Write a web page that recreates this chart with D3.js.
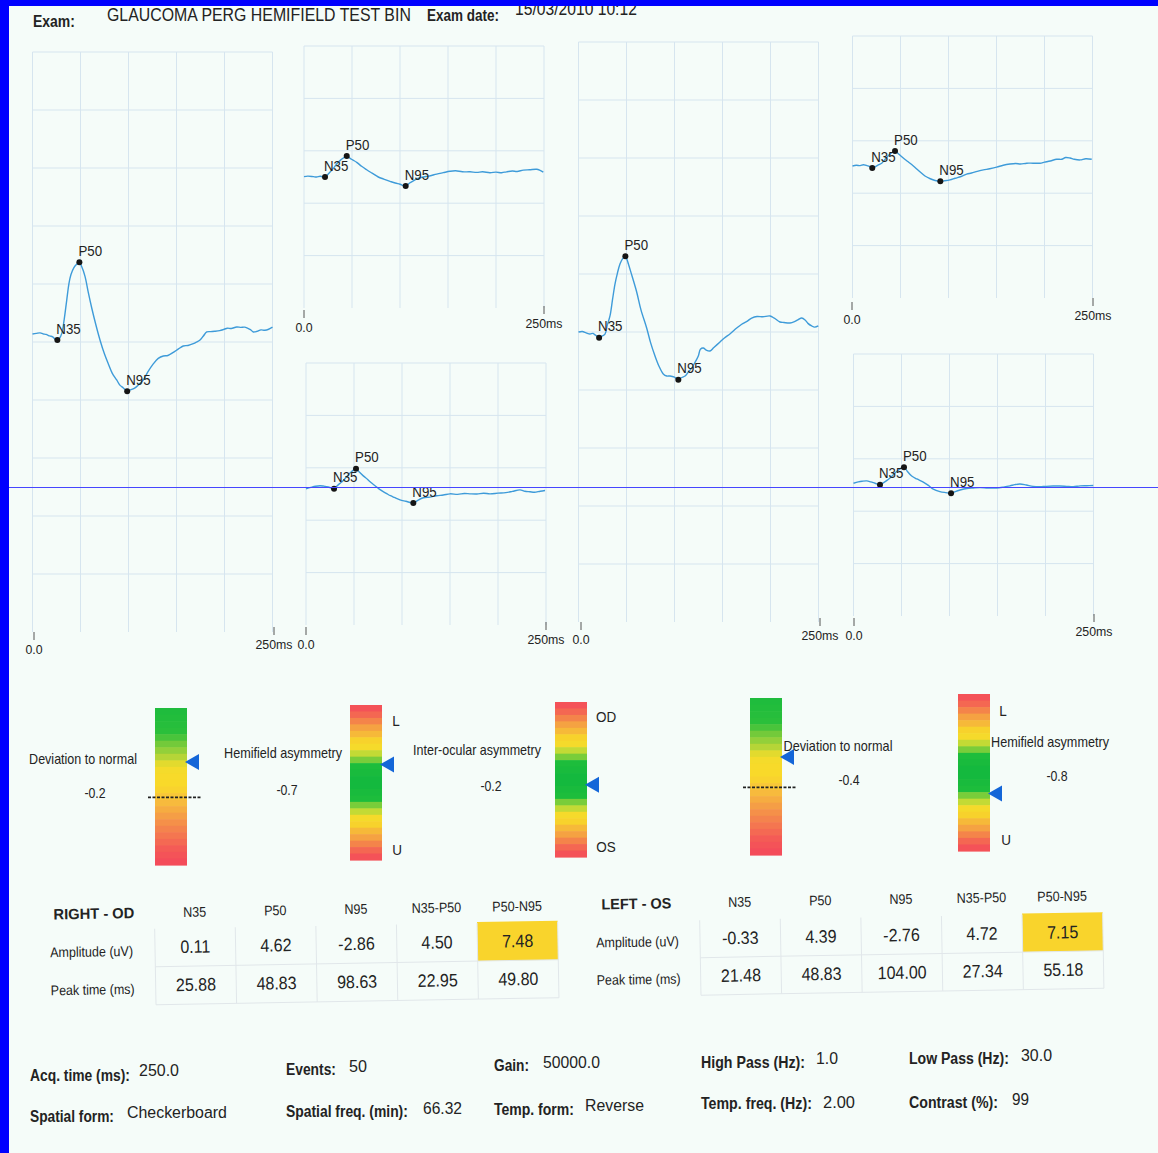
<!DOCTYPE html>
<html>
<head>
<meta charset="utf-8">
<script src="https://cdn.jsdelivr.net/npm/d3@7"></script>
<style>
  html, body { margin: 0; padding: 0; background: #f5fcf9; }
  svg { display: block; }
  text { font-family: "Liberation Sans", Arimo, Arial, sans-serif; fill: #232323; }
</style>
</head>
<body>
<svg id="chart" width="1158" height="1153"></svg>
<script>
// ---------------- data ----------------
const examName = "GLAUCOMA PERG HEMIFIELD TEST BIN";
const examDate = "15/03/2010 10:12";
const timeTickLabels = ["0.0", "250ms"];
const peakNames = ["N35", "P50", "N95"];

const tableColumns = ["N35", "P50", "N95", "N35-P50", "P50-N95"];
const tableRows = ["Amplitude (uV)", "Peak time (ms)"];
const highlightColumn = "P50-N95";
const odAmplitude = [0.11, 4.62, -2.86, 4.50, 7.48];
const odPeakTime  = [25.88, 48.83, 98.63, 22.95, 49.80];
const osAmplitude = [-0.33, 4.39, -2.76, 4.72, 7.15];
const osPeakTime  = [21.48, 48.83, 104.00, 27.34, 55.18];

// averaged responses: [time (ms), amplitude (uV)]
const odFullTrace = [[0,0.46],[4,0.50],[8,0.53],[11,0.47],[14,0.44],[18,0.35],[21,0.30],[24,0.14],[25.88,0.11],[28,0.2],[30.5,0.5],[33,1.3],[35.6,2.4],[38,3.4],[40,3.9],[43,4.3],[46,4.5],[48.83,4.62],[51,4.4],[54.7,3.8],[58,2.9],[61.7,1.97],[66,1.0],[70.3,0.12],[75,-0.7],[79,-1.27],[83,-1.8],[87.7,-2.2],[91,-2.5],[94.6,-2.66],[98.63,-2.86],[102,-2.78],[106.8,-2.66],[111,-2.45],[115.4,-2.2],[120,-1.75],[125.8,-1.27],[131,-0.95],[136.3,-0.81],[141,-0.78],[146.7,-0.6],[152,-0.4],[157,-0.23],[162,-0.2],[167.5,-0.1],[171,0.0],[174.5,0.12],[178,0.35],[181.5,0.58],[186,0.6],[190,0.62],[195,0.66],[198.8,0.72],[203,0.8],[207,0.78],[212.7,0.87],[217,0.85],[221,0.86],[224,0.8],[227,0.72],[230,0.58],[234,0.62],[238,0.7],[242,0.68],[246,0.74],[250,0.86]];
const odUpperTrace = [[0,0.02],[4,0.05],[9.7,0.02],[13,0.0],[17,0.04],[21.9,0.0],[26,0.22],[30.5,0.5],[34,0.75],[37.5,0.95],[41,1.1],[44.5,1.22],[48,1.08],[51,0.98],[54.9,0.85],[60,0.62],[65.3,0.42],[71,0.22],[77.4,0.0],[83,-0.12],[89.6,-0.25],[95,-0.35],[100,-0.42],[105.9,-0.52],[110,-0.35],[113.9,-0.22],[118,-0.1],[124.3,0.0],[130,0.05],[138.2,0.17],[145,0.25],[152,0.33],[158,0.36],[165,0.3],[172.9,0.3],[180,0.27],[186,0.3],[193.7,0.25],[200,0.28],[206,0.25],[211,0.3],[217,0.35],[222,0.32],[228.4,0.4],[235,0.42],[242.4,0.45],[246,0.38],[249.3,0.28]];
const odLowerTrace = [[0,0.3],[5,0.38],[10,0.45],[14.6,0.48],[18,0.46],[23.2,0.41],[26,0.35],[29.2,0.3],[32,0.45],[35,0.6],[38.9,0.78],[43,1.05],[47.6,1.3],[52.1,1.47],[55,1.3],[59.7,1.05],[64,0.85],[68,0.65],[71.9,0.48],[76,0.3],[80,0.15],[84.1,0.02],[88,-0.1],[92,-0.2],[97.9,-0.34],[104,-0.42],[111.8,-0.52],[116,-0.38],[122.2,-0.22],[129,-0.18],[136.1,-0.1],[143,-0.06],[150,0.01],[158,-0.02],[165,0.03],[170.8,0.01],[178,0.0],[185,0.04],[191.7,0.01],[200,0.05],[208,0.08],[215,0.15],[222.9,0.24],[228,0.16],[233.3,0.13],[238,0.1],[244,0.16],[249,0.2]];
const osFullTrace = [[0,0.0],[4,0.03],[8,-0.05],[12,-0.12],[15,-0.08],[17.2,-0.17],[19.5,-0.25],[21.48,-0.33],[24,-0.25],[27.6,-0.12],[30,0.4],[32.8,0.93],[35.5,1.9],[38,2.78],[40.5,3.4],[43.2,3.94],[46,4.25],[48.83,4.39],[50.5,4.2],[52,3.94],[56,3.2],[60.6,2.32],[65,1.3],[71,0.23],[75,-0.6],[79.7,-1.39],[84,-2.0],[88.3,-2.43],[92,-2.55],[95.3,-2.55],[100,-2.62],[104.0,-2.76],[107,-2.65],[111,-2.55],[114,-2.35],[117.9,-2.09],[121,-1.8],[124.8,-1.39],[127,-1.0],[130,-0.93],[133,-1.05],[137,-1.1],[141,-0.9],[147.4,-0.58],[152,-0.35],[158,-0.1],[164.8,0.23],[170,0.45],[175,0.6],[180.4,0.81],[186,0.9],[192,0.88],[199.5,0.93],[204,0.8],[209.9,0.58],[214,0.55],[220.3,0.52],[225,0.6],[229,0.72],[232.5,0.81],[236,0.7],[239,0.5],[242.9,0.35],[246,0.28],[249.8,0.35]];
const osUpperTrace = [[0,0.06],[4,0.1],[8,0.08],[11.3,0.13],[14,0.1],[17,0.05],[20.6,-0.06],[24,0.02],[27,0.12],[30.4,0.22],[34,0.45],[39,0.75],[44.3,0.92],[48,0.75],[52.9,0.52],[58,0.3],[63.4,0.06],[69,-0.22],[75.5,-0.52],[81,-0.68],[86,-0.78],[91.5,-0.82],[96,-0.8],[101.6,-0.75],[107,-0.65],[113,-0.55],[118.9,-0.41],[124,-0.35],[130,-0.25],[136.3,-0.17],[143,-0.1],[150.2,-0.01],[157,0.1],[164,0.17],[170,0.2],[175,0.17],[181.5,0.22],[188,0.22],[195.3,0.22],[200,0.28],[206,0.35],[212.7,0.45],[218,0.45],[222,0.55],[226.6,0.52],[231,0.45],[237,0.41],[243,0.48],[249.2,0.45]];
const osLowerTrace = [[0,0.1],[5,0.18],[9,0.22],[13.9,0.24],[18,0.18],[22.4,0.1],[27.6,0.01],[31,0.12],[34.5,0.25],[38,0.41],[42,0.62],[46.7,0.87],[52.6,1.03],[56,0.8],[60.6,0.52],[66,0.35],[72.7,0.17],[78,-0.02],[83.1,-0.24],[90,-0.38],[96,-0.44],[101.6,-0.48],[106,-0.38],[111,-0.29],[118,-0.2],[124.8,-0.17],[132,-0.15],[140,-0.18],[149.2,-0.17],[156,-0.12],[163,-0.05],[168,0.02],[173.4,0.06],[180,0.0],[187,-0.08],[194.3,-0.1],[200,-0.08],[208,-0.06],[215.1,-0.06],[222,-0.08],[229,-0.1],[236,-0.05],[243,-0.04],[249.8,-0.03]];

// half-field peak markers: [time (ms), amplitude (uV)] for N35, P50, N95
const odUpperPeaks = [[21.9, 0.0], [44.5, 1.22], [105.9, -0.52]];
const odLowerPeaks = [[29.2, 0.3], [52.1, 1.47], [111.8, -0.52]];
const osUpperPeaks = [[20.6, -0.06], [44.3, 0.92], [91.5, -0.82]];
const osLowerPeaks = [[27.6, 0.01], [52.6, 1.03], [101.6, -0.48]];

// summary gauges
const gaugeTitles = ["Deviation to normal", "Hemifield asymmetry", "Inter-ocular asymmetry", "Deviation to normal", "Hemifield asymmetry"];
const gaugeValues = [-0.2, -0.7, -0.2, -0.4, -0.8];
const gaugeKinds  = ["deviation", "asymmetry", "asymmetry", "deviation", "asymmetry"];
const gaugeEnds   = [null, ["L", "U"], ["OD", "OS"], null, ["L", "U"]];
const normalLimit = -1.645;

// stimulation / acquisition settings
const settingLabels = ["Acq. time (ms):", "Events:", "Gain:", "High Pass (Hz):", "Low Pass (Hz):",
                       "Spatial form:", "Spatial freq. (min):", "Temp. form:", "Temp. freq. (Hz):", "Contrast (%):"];
const settingValues = ["250.0", "50", "50000.0", "1.0", "30.0",
                       "Checkerboard", "66.32", "Reverse", "2.00", "99"];

// ---------------- drawing ----------------
const svg = d3.select("#chart");
const W = 1158, H = 1153;
svg.append("rect").attr("width", W).attr("height", H).attr("fill", "#f5fcf9");

// numbers printed with a plain hyphen for the sign
const fmt = spec => { const f = d3.format(spec); return v => f(v).replace("\u2212", "-"); };
const fmt1 = fmt(".1f"), fmt2 = fmt(".2f");

// condensed text: drawn at natural size, then narrowed horizontally
function txt(g, str, x, y, o = {}) {
  const holder = g.append("g");
  const t = holder.append("text")
    .attr("x", 0).attr("y", 0)
    .attr("font-size", o.size || 14)
    .attr("font-weight", o.bold ? "bold" : null)
    .attr("text-anchor", o.anchor || "start")
    .attr("dominant-baseline", "central")
    .text(str);
  const natural = t.node().getComputedTextLength();
  let s = 1;
  if (o.width) s = o.width / natural;
  else if (o.squeeze) s = o.squeeze;
  holder.attr("transform", `translate(${x},${y}) scale(${s},1)`);
  return t;
}

// header
const head = svg.append("g");
txt(head, "Exam:", 33, 21, { size: 16, bold: true, width: 42 });
txt(head, examName, 107, 15, { size: 18, width: 304 });
txt(head, "Exam date:", 427, 16, { size: 16, bold: true, width: 72 });
txt(head, examDate, 515, 9, { size: 18, width: 122 });

// waveform panels
const PX_PER_UV = 17.26;
const panels = [
  { trace: odFullTrace, peaks: peakNames.map((n, i) => [odPeakTime[i], odAmplitude[i]]),
    x0: 32.5, top: 52, bottom: 632, rows: 10, labels: [[34, 650], [274, 645]] },
  { trace: odUpperTrace, peaks: odUpperPeaks, x0: 304, top: 46, bottom: 308, rows: 5, labels: [[304, 328], [544, 324]] },
  { trace: odLowerTrace, peaks: odLowerPeaks, x0: 306, top: 363, bottom: 625, rows: 5, labels: [[306, 645], [546, 640]] },
  { trace: osFullTrace, peaks: peakNames.map((n, i) => [osPeakTime[i], osAmplitude[i]]),
    x0: 578.5, top: 42, bottom: 622, rows: 10, labels: [[581, 640], [820, 636]] },
  { trace: osUpperTrace, peaks: osUpperPeaks, x0: 852.5, top: 36, bottom: 298, rows: 5, labels: [[852, 320], [1093, 316]] },
  { trace: osLowerTrace, peaks: osLowerPeaks, x0: 853.5, top: 354, bottom: 616, rows: 5, labels: [[854, 636], [1094, 632]] }
];

panels.forEach(p => {
  const x = d3.scaleLinear().domain([0, 250]).range([p.x0, p.x0 + 240]);
  const half = (p.bottom - p.top) / 2 / PX_PER_UV;
  const y = d3.scaleLinear().domain([-half, half]).range([p.bottom, p.top]);
  const g = svg.append("g");
  const gridColor = "#d6e5ef";

  g.selectAll("line.v").data(d3.range(0, 251, 50)).join("line")
    .attr("x1", d => x(d)).attr("x2", d => x(d))
    .attr("y1", p.top).attr("y2", p.bottom)
    .attr("stroke", gridColor).attr("stroke-width", 1);
  const rowUv = 2 * half / p.rows;
  g.selectAll("line.h").data(d3.range(p.rows)).join("line")
    .attr("x1", x(0)).attr("x2", x(250))
    .attr("y1", d => y(half - d * rowUv)).attr("y2", d => y(half - d * rowUv))
    .attr("stroke", gridColor).attr("stroke-width", 1);

  // time ticks
  p.labels.forEach((l, i) => {
    g.append("line").attr("x1", l[0]).attr("x2", l[0])
      .attr("y1", l[1] - 18).attr("y2", l[1] - 10)
      .attr("stroke", "#555").attr("stroke-width", 1);
    txt(g, timeTickLabels[i], l[0], l[1], { size: 13, anchor: "middle", squeeze: 0.95 });
  });

  const line = d3.line().x(d => x(d[0])).y(d => y(d[1])).curve(d3.curveCatmullRom.alpha(0.5));
  g.append("path").datum(p.trace).attr("d", line)
    .attr("fill", "none").attr("stroke", "#3e9bd9").attr("stroke-width", 1.4);

  p.peaks.forEach((pk, i) => {
    g.append("circle").attr("cx", x(pk[0])).attr("cy", y(pk[1])).attr("r", 3).attr("fill", "#151515");
    txt(g, peakNames[i], x(pk[0]) - 1, y(pk[1]) - 11, { size: 14, squeeze: 0.95 });
  });
});

// gauges
const gaugeLayout = [
  { x: 155, y: 708, h: 157, title: [83, 759, 108], value: [95, 793] },
  { x: 350, y: 705, h: 155, title: [283, 753, 118], value: [287, 790], ends: [[396, 721], [397, 850]], flip: true },
  { x: 555, y: 702, h: 155, title: [477, 750, 128], value: [491, 786], ends: [[606, 717], [606, 847]] },
  { x: 750, y: 698, h: 157, title: [838, 746, 109], value: [849, 780] },
  { x: 958, y: 694, h: 157, title: [1050, 742, 118], value: [1057, 776], ends: [[1003, 711], [1006, 840]] }
];
const BAR_W = 32, BANDS = 24;
const devColor = d3.scaleLinear()
  .domain([0, 0.16, 0.22, 0.3, 0.37, 0.5, 0.58, 0.68, 0.8, 0.9, 1])
  .range(["#1dbb3d", "#2bbf3b", "#6cc93a", "#a9d43a", "#f3dc2b", "#fad92a", "#f8c23a", "#f5a045", "#f47a4f", "#f45a56", "#f4485b"]);
const asymColor = d3.scaleLinear()
  .domain([0, 0.11, 0.14, 0.18, 0.21, 0.28, 0.32, 0.37, 0.42, 0.5])
  .range(["#12b83f", "#1ebd3c", "#6fcb3a", "#b3d838", "#f4de2a", "#f8d02c", "#f6b43c", "#f59a45", "#f4704f", "#f4485b"]);

gaugeTitles.forEach((title, i) => {
  const L = gaugeLayout[i];
  const g = svg.append("g");
  const bandH = L.h / BANDS;
  g.selectAll("rect").data(d3.range(BANDS)).join("rect")
    .attr("x", L.x).attr("width", BAR_W)
    .attr("y", d => L.y + d * bandH).attr("height", bandH + 0.6)
    .attr("fill", d => {
      const f = (d + 0.5) / BANDS;
      return gaugeKinds[i] === "deviation" ? devColor(f) : asymColor(Math.abs(f - 0.5));
    });

  const scale = gaugeKinds[i] === "deviation"
    ? d3.scaleLinear().domain([2, -4.4]).range([L.y, L.y + L.h])
    : d3.scaleLinear().domain(L.flip ? [-3, 3] : [3, -3]).range([L.y, L.y + L.h]);

  if (gaugeKinds[i] === "deviation") {
    g.append("line").attr("x1", L.x - 7).attr("x2", L.x + BAR_W + 14)
      .attr("y1", scale(normalLimit)).attr("y2", scale(normalLimit))
      .attr("stroke", "#222").attr("stroke-width", 1.6).attr("stroke-dasharray", "3,1.5");
  }

  const ty = scale(gaugeValues[i]);
  const tx = L.x + BAR_W - 2;
  g.append("path")
    .attr("d", `M${tx},${ty} L${tx + 14},${ty - 8} L${tx + 14},${ty + 8} Z`)
    .attr("fill", "#1466d8");

  txt(g, title, L.title[0], L.title[1], { size: 14, anchor: "middle", width: L.title[2] });
  txt(g, fmt1(gaugeValues[i]), L.value[0], L.value[1], { size: 14, anchor: "middle", squeeze: 0.88 });
  if (gaugeEnds[i]) {
    gaugeEnds[i].forEach((e, k) => txt(g, e, L.ends[k][0], L.ends[k][1], { size: 15, anchor: "middle", squeeze: 0.9 }));
  }
});

// result tables
function drawTable(cfg) {
  const g = svg.append("g").attr("transform", `rotate(-1, ${cfg.pivot[0]}, ${cfg.pivot[1]})`);
  const colX = d => cfg.left + d * cfg.colW;
  const rowY = r => cfg.top + r * cfg.rowH;
  const values = [cfg.amplitude, cfg.peakTime];
  const hi = tableColumns.indexOf(highlightColumn);

  g.append("rect").attr("x", colX(hi)).attr("y", rowY(0) - 1).attr("width", cfg.colW).attr("height", cfg.rowH + 1)
    .attr("fill", "#f9d42c");

  const border = "#e1e7ea";
  d3.range(tableColumns.length + 1).forEach(c => {
    g.append("line").attr("x1", colX(c)).attr("x2", colX(c)).attr("y1", rowY(0)).attr("y2", rowY(2))
      .attr("stroke", border);
  });
  d3.range(1, 3).forEach(r => {
    g.append("line").attr("x1", colX(0)).attr("x2", colX(tableColumns.length)).attr("y1", rowY(r)).attr("y2", rowY(r))
      .attr("stroke", border);
  });

  txt(g, cfg.title, cfg.titleX, cfg.headerY, { size: 15, bold: true, width: cfg.titleW });
  tableColumns.forEach((c, k) => {
    txt(g, c, colX(k) + cfg.colW / 2, cfg.headerY, { size: 14, anchor: "middle", squeeze: 0.9 });
  });
  tableRows.forEach((r, j) => {
    txt(g, r, cfg.rowLabelX, rowY(j) + cfg.rowH / 2 + cfg.rowLabelDy, { size: 14, width: j === 0 ? 83 : 84 });
    values[j].forEach((v, k) => {
      txt(g, fmt2(v), colX(k) + cfg.colW / 2, rowY(j) + cfg.rowH / 2, { size: 18, anchor: "middle", squeeze: 0.89 });
    });
  });
}

drawTable({ title: "RIGHT - OD", titleX: 54, titleW: 81, amplitude: odAmplitude, peakTime: odPeakTime,
  left: 155, colW: 80.6, top: 928, rowH: 38, headerY: 912, rowLabelX: 50, rowLabelDy: 3, pivot: [195, 947] });
drawTable({ title: "LEFT - OS", titleX: 602, titleW: 70, amplitude: osAmplitude, peakTime: osPeakTime,
  left: 700, colW: 80.6, top: 919.5, rowH: 37.5, headerY: 902, rowLabelX: 596, rowLabelDy: 2, pivot: [740, 938] });

// settings footer
const settingLayout = [
  [30, 1075, 100, 139, 1070, 40], [286, 1069, 50, 349, 1066, 18], [494, 1066, 35, 543, 1062, 57],
  [701, 1062, 104, 816, 1058, 22], [909, 1058, 100, 1021, 1055, 31],
  [30, 1117, 84, 127, 1112, 100], [286, 1111, 122, 423, 1108, 39], [494, 1109, 80, 585, 1105, 59],
  [701, 1103, 111, 823, 1102, 32], [909, 1102, 89, 1012, 1099, 17]
];
const foot = svg.append("g");
settingLabels.forEach((lab, i) => {
  const s = settingLayout[i];
  txt(foot, lab, s[0], s[1], { size: 16, bold: true, width: s[2] });
  txt(foot, settingValues[i], s[3], s[4], { size: 17, width: s[5] });
});

// scanner frame and reference line
svg.append("rect").attr("x", 0).attr("y", 0).attr("width", W).attr("height", 6).attr("fill", "#0000ff");
svg.append("rect").attr("x", 0).attr("y", 0).attr("width", 9).attr("height", H).attr("fill", "#0000ff");
svg.append("rect").attr("x", 9).attr("y", 487).attr("width", W - 9).attr("height", 1).attr("fill", "#4646ff");
</script>
</body>
</html>
